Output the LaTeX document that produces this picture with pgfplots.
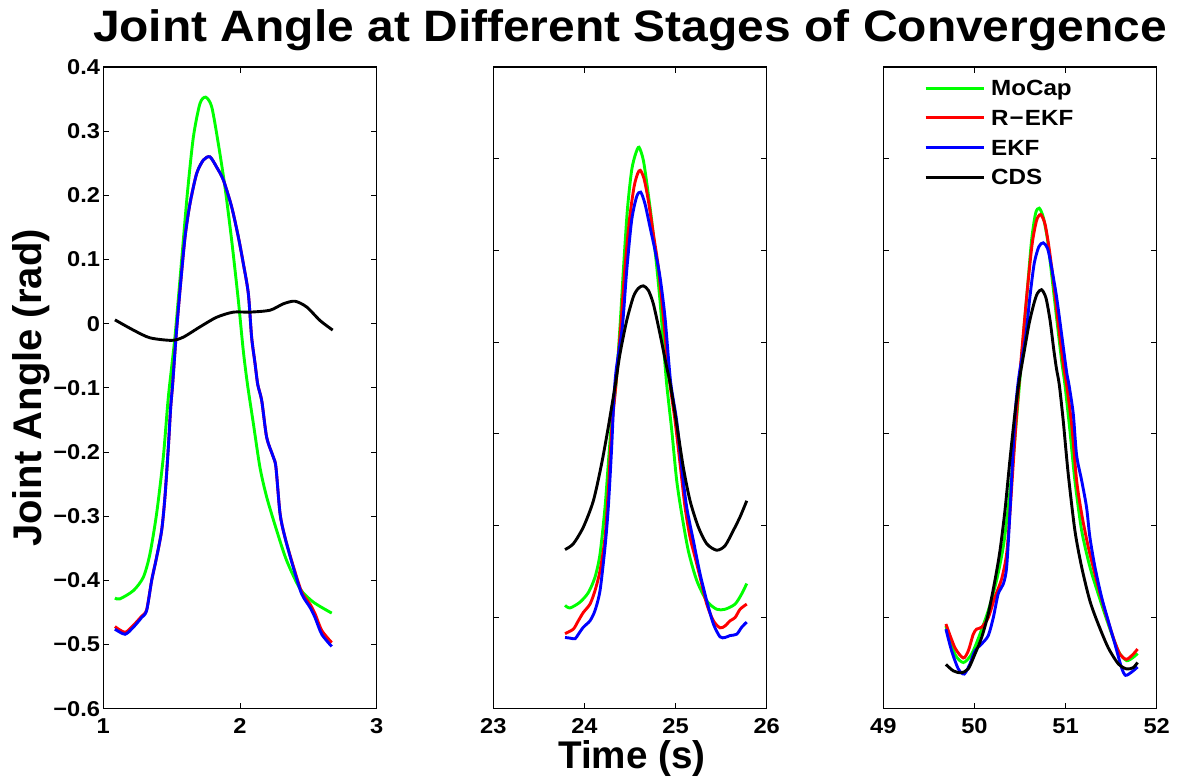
\documentclass[border=0pt]{standalone}
\usepackage{graphicx}
\usepackage{pgfplots}
\pgfplotsset{compat=1.18}
\usepackage{fontspec}
\setmainfont{Liberation Sans}

\definecolor{mgreen}{rgb}{0,1,0}
\definecolor{mred}{rgb}{1,0,0}
\definecolor{mblue}{rgb}{0,0,1}
\newcommand{\sx}[1]{\scalebox{1.1}[1]{#1}}

\begin{document}
\begin{tikzpicture}
\useasboundingbox (0,0) rectangle (1181pt,777pt);
\pgfplotsset{
  panel/.style={
    scale only axis, width=273.4pt, height=641.7pt, anchor=south west,
    ymin=-0.6, ymax=0.4,
    tick align=inside, major tick length=6pt,
    axis line style={line width=1.2pt},
    tick style={black, line width=1.0pt},
    ticklabel style={font=\bfseries\fontsize{21.5}{21.5}\selectfont},
    xticklabel style={inner sep=0pt, yshift=-10pt},
    yticklabel style={inner xsep=3pt, inner ysep=0pt},
    every axis plot/.append style={line width=2.9pt, smooth, tension=0.45},
  }
}

% ---------------- Panel 1 ----------------
\begin{axis}[panel, at={(103.3pt,68.3pt)},
  xmin=1, xmax=3, xtick={1,2,3}, xticklabels={\sx{1},\sx{2},\sx{3}},
  ytick={-0.6,-0.5,-0.4,-0.3,-0.2,-0.1,0,0.1,0.2,0.3,0.4},
  yticklabels={\sx{−0.6},\sx{−0.5},\sx{−0.4},\sx{−0.3},\sx{−0.2},\sx{−0.1},\sx{0},\sx{0.1},\sx{0.2},\sx{0.3},\sx{0.4}}]
\addplot[mgreen] coordinates {(1.085,-0.4275) (1.12,-0.429) (1.22,-0.416) (1.293,-0.395) (1.341,-0.359) (1.39,-0.296) (1.439,-0.208) (1.476,-0.114) (1.524,-0.021) (1.573,0.099) (1.615,0.203) (1.659,0.291) (1.707,0.343) (1.749,0.353) (1.793,0.338) (1.841,0.281) (1.89,0.213) (1.939,0.130) (1.988,0.036) (2.024,-0.042) (2.055,-0.095) (2.098,-0.156) (2.146,-0.224) (2.195,-0.270) (2.268,-0.322) (2.341,-0.369) (2.439,-0.413) (2.537,-0.434) (2.671,-0.451)};
\addplot[mred] coordinates {(1.085,-0.472) (1.159,-0.481) (1.22,-0.470) (1.28,-0.456) (1.317,-0.446) (1.354,-0.400) (1.39,-0.364) (1.427,-0.322) (1.451,-0.27) (1.476,-0.192) (1.493,-0.13) (1.507,-0.095) (1.532,-0.021) (1.561,0.052) (1.598,0.135) (1.634,0.187) (1.683,0.234) (1.732,0.255) (1.78,0.26) (1.829,0.244) (1.878,0.224) (1.939,0.182) (1.988,0.135) (2.024,0.094) (2.061,0.047) (2.085,-0.021) (2.11,-0.062) (2.13,-0.095) (2.159,-0.12) (2.195,-0.177) (2.244,-0.208) (2.263,-0.224) (2.293,-0.296) (2.329,-0.333) (2.39,-0.378) (2.451,-0.418) (2.512,-0.437) (2.549,-0.452) (2.598,-0.478) (2.671,-0.497)};
\addplot[mblue] coordinates {(1.085,-0.476) (1.159,-0.484) (1.22,-0.473) (1.28,-0.458) (1.317,-0.447) (1.354,-0.400) (1.39,-0.364) (1.427,-0.322) (1.451,-0.27) (1.476,-0.192) (1.493,-0.13) (1.507,-0.095) (1.532,-0.021) (1.561,0.052) (1.598,0.135) (1.634,0.187) (1.683,0.234) (1.732,0.255) (1.78,0.26) (1.829,0.244) (1.878,0.224) (1.939,0.182) (1.988,0.135) (2.024,0.094) (2.061,0.047) (2.085,-0.021) (2.11,-0.062) (2.13,-0.095) (2.159,-0.12) (2.195,-0.177) (2.244,-0.208) (2.263,-0.224) (2.293,-0.296) (2.329,-0.333) (2.39,-0.38) (2.451,-0.421) (2.512,-0.442) (2.549,-0.458) (2.598,-0.484) (2.671,-0.503)};
\addplot[black] coordinates {(1.085,0.006) (1.22,-0.010) (1.341,-0.022) (1.5,-0.026) (1.585,-0.021) (1.707,-0.005) (1.829,0.010) (1.951,0.018) (2.073,0.018) (2.22,0.021) (2.317,0.031) (2.402,0.035) (2.488,0.026) (2.585,0.005) (2.678,-0.010)};
\end{axis}

% ---------------- Panel 2 ----------------
\begin{axis}[panel, at={(493.3pt,68.3pt)},
  xmin=23, xmax=26, xtick={23,24,25,26}, xticklabels={\sx{23},\sx{24},\sx{25},\sx{26}},
  ytick={-0.4571,-0.3143,-0.1714,-0.0286,0.1143,0.2571}, yticklabels={}]
\addplot[mgreen] coordinates {(23.787,-0.439) (23.842,-0.443) (23.951,-0.434) (24.043,-0.419) (24.116,-0.395) (24.171,-0.359) (24.226,-0.286) (24.262,-0.218) (24.299,-0.151) (24.346,-0.095) (24.39,-0.005) (24.427,0.083) (24.471,0.177) (24.518,0.239) (24.562,0.265) (24.599,0.275) (24.646,0.255) (24.69,0.213) (24.738,0.161) (24.786,0.099) (24.829,0.036) (24.866,-0.031) (24.903,-0.095) (24.958,-0.166) (25.012,-0.244) (25.067,-0.296) (25.14,-0.354) (25.232,-0.4) (25.342,-0.432) (25.451,-0.445) (25.543,-0.445) (25.653,-0.437) (25.726,-0.421) (25.781,-0.405)};
\addplot[mred] coordinates {(23.787,-0.483) (23.878,-0.476) (23.933,-0.463) (23.988,-0.45) (24.061,-0.437) (24.116,-0.416) (24.171,-0.385) (24.226,-0.333) (24.262,-0.26) (24.299,-0.166) (24.345,-0.095) (24.398,-0.005) (24.445,0.088) (24.493,0.161) (24.544,0.213) (24.584,0.234) (24.613,0.239) (24.654,0.226) (24.701,0.192) (24.756,0.140) (24.811,0.088) (24.866,0.010) (24.91,-0.057) (24.939,-0.095) (24.994,-0.151) (25.049,-0.218) (25.104,-0.286) (25.159,-0.333) (25.214,-0.364) (25.269,-0.395) (25.342,-0.437) (25.415,-0.463) (25.488,-0.474) (25.543,-0.471) (25.598,-0.463) (25.653,-0.458) (25.708,-0.445) (25.781,-0.437)};
\addplot[mblue] coordinates {(23.787,-0.489) (23.842,-0.49) (23.897,-0.491) (23.933,-0.484) (23.988,-0.473) (24.061,-0.463) (24.116,-0.447) (24.171,-0.416) (24.226,-0.348) (24.262,-0.286) (24.299,-0.192) (24.324,-0.114) (24.35,-0.07) (24.416,-0.005) (24.464,0.083) (24.518,0.161) (24.573,0.198) (24.617,0.205) (24.664,0.187) (24.719,0.151) (24.775,0.114) (24.829,0.073) (24.884,0.010) (24.945,-0.09) (25.012,-0.151) (25.067,-0.224) (25.122,-0.286) (25.195,-0.338) (25.269,-0.39) (25.342,-0.432) (25.415,-0.468) (25.488,-0.488) (25.543,-0.489) (25.598,-0.486) (25.67,-0.484) (25.726,-0.473) (25.781,-0.465)};
\addplot[black] coordinates {(23.787,-0.352) (23.878,-0.343) (23.988,-0.317) (24.098,-0.276) (24.189,-0.218) (24.262,-0.161) (24.317,-0.114) (24.35,-0.085) (24.39,-0.047) (24.464,0.005) (24.537,0.042) (24.591,0.055) (24.646,0.059) (24.701,0.052) (24.756,0.031) (24.829,-0.016) (24.903,-0.068) (24.943,-0.095) (25.012,-0.156) (25.085,-0.224) (25.159,-0.276) (25.25,-0.317) (25.342,-0.343) (25.451,-0.353) (25.543,-0.346) (25.635,-0.322) (25.708,-0.301) (25.781,-0.276)};
\end{axis}

% ---------------- Panel 3 ----------------
\begin{axis}[panel, at={(883.3pt,68.3pt)},
  xmin=49, xmax=52, xtick={49,50,51,52}, xticklabels={\sx{49},\sx{50},\sx{51},\sx{52}},
  ytick={-0.4571,-0.3143,-0.1714,-0.0286,0.1143,0.2571}, yticklabels={},
  legend style={draw=none, fill=none, at={(0,1)}, anchor=north west,
    xshift=40.7pt, yshift=-13.5pt, inner sep=0pt, row sep=14.7pt, column sep=6pt,
    nodes={inner sep=0pt, text height=15pt, text depth=0pt, anchor=west},
    font=\bfseries\fontsize{22}{22}\selectfont},
  legend cell align=left,
  legend image code/.code={\draw[#1, line width=2.9pt] (0pt,0pt) -- (58pt,0pt);}]
\addplot[mgreen] coordinates {(49.687,-0.471) (49.786,-0.515) (49.878,-0.528) (49.969,-0.515) (50.06,-0.484) (50.152,-0.447) (50.243,-0.4) (50.316,-0.348) (50.371,-0.286) (50.426,-0.208) (50.473,-0.13) (50.494,-0.095) (50.536,-0.021) (50.583,0.057) (50.627,0.130) (50.671,0.172) (50.711,0.180) (50.755,0.166) (50.803,0.130) (50.846,0.078) (50.901,0.010) (50.956,-0.057) (50.993,-0.095) (51.047,-0.166) (51.102,-0.244) (51.176,-0.322) (51.267,-0.379) (51.358,-0.421) (51.468,-0.468) (51.578,-0.51) (51.669,-0.525) (51.742,-0.52) (51.79,-0.514)};
\addlegendentry{\sx{MoCap}}
\addplot[mred] coordinates {(49.687,-0.468) (49.786,-0.505) (49.878,-0.521) (49.932,-0.51) (49.987,-0.484) (50.024,-0.476) (50.079,-0.473) (50.152,-0.458) (50.225,-0.426) (50.298,-0.398) (50.353,-0.359) (50.389,-0.296) (50.426,-0.218) (50.463,-0.14) (50.488,-0.095) (50.536,-0.016) (50.583,0.057) (50.634,0.125) (50.682,0.161) (50.726,0.170) (50.773,0.156) (50.817,0.120) (50.865,0.068) (50.92,0.0) (50.974,-0.062) (51.011,-0.095) (51.066,-0.156) (51.121,-0.244) (51.176,-0.296) (51.249,-0.348) (51.34,-0.4) (51.431,-0.447) (51.523,-0.489) (51.596,-0.515) (51.669,-0.523) (51.742,-0.515) (51.79,-0.507)};
\addlegendentry{\sx{R\kern1pt−\kern1ptEKF}}
\addplot[mblue] coordinates {(49.687,-0.476) (49.75,-0.51) (49.823,-0.538) (49.888,-0.546) (49.951,-0.53) (50.005,-0.51) (50.079,-0.499) (50.152,-0.486) (50.207,-0.458) (50.261,-0.421) (50.316,-0.406) (50.353,-0.38) (50.389,-0.296) (50.426,-0.192) (50.452,-0.13) (50.49,-0.08) (50.561,-0.021) (50.609,0.042) (50.656,0.094) (50.707,0.120) (50.755,0.126) (50.803,0.117) (50.846,0.088) (50.901,0.042) (50.956,-0.016) (51.011,-0.075) (51.037,-0.095) (51.084,-0.14) (51.121,-0.205) (51.176,-0.244) (51.23,-0.286) (51.267,-0.333) (51.322,-0.379) (51.395,-0.426) (51.468,-0.463) (51.541,-0.499) (51.614,-0.536) (51.658,-0.548) (51.724,-0.543) (51.79,-0.535)};
\addlegendentry{\sx{EKF}}
\addplot[black] coordinates {(49.687,-0.531) (49.768,-0.541) (49.852,-0.544) (49.932,-0.538) (50.005,-0.515) (50.079,-0.489) (50.152,-0.452) (50.225,-0.4) (50.28,-0.354) (50.335,-0.291) (50.389,-0.213) (50.444,-0.14) (50.49,-0.09) (50.55,-0.04) (50.60,0.0) (50.65,0.03) (50.69,0.047) (50.737,0.053) (50.785,0.040) (50.83,0.005) (50.87,-0.04) (50.90,-0.07) (50.931,-0.095) (50.974,-0.151) (51.029,-0.234) (51.102,-0.322) (51.176,-0.379) (51.267,-0.432) (51.358,-0.468) (51.468,-0.505) (51.578,-0.53) (51.669,-0.538) (51.742,-0.536) (51.79,-0.528)};
\addlegendentry{\sx{CDS}}
\end{axis}

% ---------------- Titles ----------------
\node[anchor=base, font=\bfseries\fontsize{44}{44}\selectfont, inner sep=0pt]
  at (630pt,735pt) {\scalebox{1.09}[1]{Joint Angle at Different Stages of Convergence}};
\node[anchor=base, rotate=90, font=\bfseries\fontsize{40}{40}\selectfont, inner sep=0pt]
  at (42pt,389pt) {Joint Angle (rad)};
\node[anchor=base, font=\bfseries\fontsize{38.6}{38.6}\selectfont, inner sep=0pt]
  at (632pt,9pt) {Time (s)};
\end{tikzpicture}
\end{document}
